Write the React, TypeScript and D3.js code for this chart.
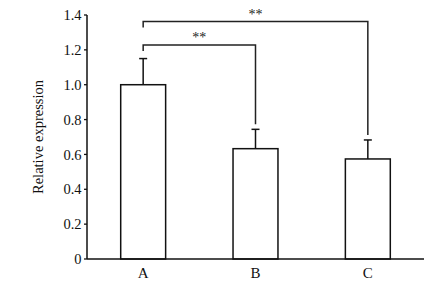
import React from "react";
import * as d3 from "d3";

const categories = ["A", "B", "C"];
const means = [1.0, 0.633, 0.574];
const errors = [0.15, 0.111, 0.109];
const yTicks = [0, 0.2, 0.4, 0.6, 0.8, 1.0, 1.2, 1.4];
const yTickLabels = ["0", "0.2", "0.4", "0.6", "0.8", "1.0", "1.2", "1.4"];
const brackets = [
  { from: "A", to: "B", level: 1.228, label: "**" },
  { from: "A", to: "C", level: 1.362, label: "**" },
];

const W = 426;
const H = 281;
const left = 87;
const right = 424;
const bottom = 259;
const top = 15;
const FONT = "'Liberation Serif', 'Times New Roman', serif";

export default function App() {
  const x = d3
    .scaleBand<string>()
    .domain(categories)
    .range([left, right])
    .paddingInner(0.6)
    .paddingOuter(0.3);
  const y = d3.scaleLinear().domain([0, 1.4]).range([bottom, top]);
  const bw = x.bandwidth();
  const cx = (c: string) => (x(c) as number) + bw / 2;
  const errTop = (c: string) => {
    const i = categories.indexOf(c);
    return y(means[i] + errors[i]);
  };
  const stroke = "#111";

  return (
    <svg
      width={W}
      height={H}
      style={{ position: "absolute", left: 0, top: 0, background: "#fff" }}
      fontFamily={FONT}
    >
      <rect x={0} y={0} width={W} height={H} fill="#fff" />
      {/* bars */}
      {categories.map((c, i) => (
        <g key={c}>
          <line
            x1={cx(c)}
            x2={cx(c)}
            y1={y(means[i])}
            y2={y(means[i] + errors[i])}
            stroke={stroke}
            strokeWidth={1.5}
          />
          <line
            x1={cx(c) - 4}
            x2={cx(c) + 4}
            y1={y(means[i] + errors[i])}
            y2={y(means[i] + errors[i])}
            stroke={stroke}
            strokeWidth={1.5}
          />
          <rect
            x={x(c)}
            y={y(means[i])}
            width={bw}
            height={bottom - y(means[i])}
            fill="#fff"
            stroke={stroke}
            strokeWidth={1.5}
          />
          <text
            x={cx(c)}
            y={277.5}
            textAnchor="middle"
            fontSize={15}
            fill="#111"
          >
            {c}
          </text>
        </g>
      ))}
      {/* axes */}
      <line x1={left} x2={left} y1={top} y2={bottom} stroke={stroke} strokeWidth={1.5} />
      <line x1={left} x2={right} y1={bottom} y2={bottom} stroke={stroke} strokeWidth={1.5} />
      {yTicks.map((t, i) => (
        <g key={t}>
          <line x1={left - 3} x2={left} y1={y(t)} y2={y(t)} stroke={stroke} strokeWidth={1.3} />
          <text
            x={left - 5.5}
            y={y(t)}
            dy="0.35em"
            textAnchor="end"
            fontSize={14.5}
            fill="#111"
          >
            {yTickLabels[i]}
          </text>
        </g>
      ))}
      <text
        transform={`translate(43, ${(top + bottom) / 2 - 0}) rotate(-90)`}
        textAnchor="middle"
        fontSize={14.5}
        fill="#111"
      >
        Relative expression
      </text>
      {/* significance brackets */}
      {brackets.map((b, i) => {
        const yl = y(b.level);
        const x1 = cx(b.from);
        const x2 = cx(b.to);
        return (
          <g key={i}>
            <path
              d={`M${x1},${yl + 6}V${yl}H${x2}V${errTop(b.to) - 5}`}
              fill="none"
              stroke="#222"
              strokeWidth={1.5}
            />
            <text
              x={(x1 + x2) / 2}
              y={yl - 3}
              textAnchor="middle"
              fontSize={14}
              fill="#222"
            >
              {b.label}
            </text>
          </g>
        );
      })}
    </svg>
  );
}
